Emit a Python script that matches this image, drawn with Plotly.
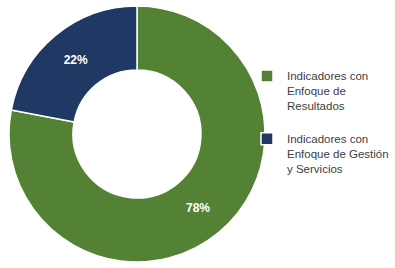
import plotly.graph_objects as go

labels = ["Indicadores con<br>Enfoque de<br>Resultados<br> ", "Indicadores con<br>Enfoque de Gestión<br>y Servicios"]
values = [78, 22]
colors = ["#548235", "#1F3864"]

fig = go.Figure(go.Pie(
    labels=labels,
    values=values,
    hole=0.5,
    sort=False,
    direction="clockwise",
    rotation=0,
    marker=dict(colors=colors, line=dict(color="white", width=1.5)),
    textinfo="percent",
    texttemplate="<b>%{percent:.0%}</b>",
    textposition="inside",
    insidetextorientation="horizontal",
    textfont=dict(family="Liberation Sans, Arial", size=12, color="white"),
    domain=dict(x=[9/395, 265/395], y=[6/268, 262/268]),
    hoverinfo="label+percent",
))

fig.update_layout(
    width=395, height=268,
    margin=dict(l=0, r=0, t=0, b=0, autoexpand=False),
    paper_bgcolor="white",
    plot_bgcolor="white",
    showlegend=True,
    legend=dict(
        x=247/395, y=1 - 62/268, xanchor="left", yanchor="top",
        valign="top",
        font=dict(family="Liberation Sans, Arial", size=11.5, color="#404040"),
        bgcolor="rgba(0,0,0,0)",
    ),
)

fig.write_html(
    "out.html",
    config={"displayModeBar": False},
    post_script="document.body.style.margin='0px';document.body.style.overflow='hidden';",
)
